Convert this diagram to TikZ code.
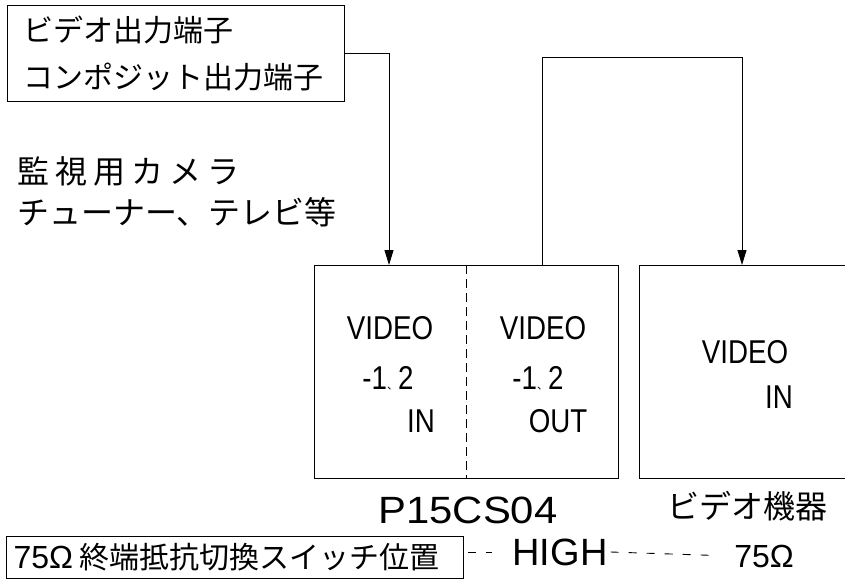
\documentclass[tikz,border=0pt]{standalone}
\usepackage{fontspec}
\usepackage{tikz}
\usetikzlibrary{arrows.meta}
\newfontfamily\cjk{Noto Sans CJK JP}
\newfontfamily\sfn[FakeStretch=0.84]{Liberation Sans}
\newfontfamily\sfp{Liberation Sans}
\newfontfamily\sfw[FakeStretch=1.1]{Liberation Sans}
\newcommand{\jpcomma}{{\cjk\fontsize{11}{11}\selectfont 、}}

\begin{document}
\begin{tikzpicture}[x=1pt,y=-1pt,
    box/.style={draw,line width=1.1pt,anchor=north west,inner sep=0pt},
    wire/.style={line width=0.9pt,-{Triangle[length=15pt,width=9pt]}},
    lab/.style={inner sep=0pt,font=\sfn\fontsize{33}{33}\selectfont},
    dline/.style={line width=0.9pt,dash pattern=on 8pt off 10pt}]
    \useasboundingbox (0,0) rectangle (845,580);

    % sources
    \node[box,minimum width=337pt,minimum height=96pt,text width=305pt,inner xsep=16pt,
          align=left,font=\cjk\fontsize{30}{47}\selectfont] (src) at (7,5)
          {ビデオ出力端子\\コンポジット出力端子};
    \node[anchor=west,align=left,inner sep=0pt,font=\cjk\fontsize{32}{41}\selectfont] (cam) at (17,192)
          {{\addfontfeature{LetterSpace=19}監視用カメラ}\\チューナー、テレビ等};

    % units
    \node[box,minimum width=304pt,minimum height=213pt] (p15) at (314,265) {};
    \node[box,minimum width=260pt,minimum height=213pt] (vid) at (639,265) {};
    \draw[line width=0.9pt,dash pattern=on 9pt off 5pt]
          ([xshift=152pt]p15.north west) -- ([xshift=152pt]p15.south west);

    \node[lab] (vin) at (390,328) {VIDEO};
    \node[lab] (nin) at (388,378) {-1\jpcomma2};
    \node[lab,anchor=east] (in) at (435,421) {IN};
    \node[lab] (vout) at (543,328) {VIDEO};
    \node[lab] (nout) at (538,378) {-1\jpcomma2};
    \node[lab] (out) at (558,421) {OUT};
    \node[lab] (vdev) at (745,352) {VIDEO};
    \node[lab] (indev) at (779,397) {IN};

    \node[inner sep=0pt,font=\sfw\fontsize{38}{38}\selectfont] (model) at (468,510) {P15CS04};
    \node[inner sep=0pt,font=\cjk\fontsize{32}{32}\selectfont] (kiki) at (747,506) {ビデオ機器};

    % switch position
    \node[box,minimum width=457pt,minimum height=42pt,text width=443pt,inner xsep=7pt,align=left] (term) at (6,536)
          {{\sfp\fontsize{32}{32}\selectfont 75Ω}\hspace{6pt}{\cjk\fontsize{30}{30}\selectfont 終端抵抗切換スイッチ位置}};
    \node[inner sep=3pt,font=\sfp\fontsize{38}{38}\selectfont] (high) at (560,552) {HIGH};
    \node[inner sep=3pt,font=\sfp\fontsize{32}{32}\selectfont] (ohm) at (764,556) {75Ω};
    \draw[dline,shorten <=4pt,shorten >=17pt] (term.east |- high.west) -- (high.west);
    \draw[dline,shorten >=19pt] (high.east) -- (ohm.west);

    % signal path
    \coordinate (inpt) at ([xshift=75pt]p15.north west);
    \coordinate (outpt) at ([xshift=228pt]p15.north west);
    \coordinate (devpt) at ([xshift=103pt]vid.north west);
    \draw[wire] (src.east) -| (inpt);
    \draw[wire] (outpt) -- ++(0,-208) -| (devpt);
\end{tikzpicture}
\end{document}
